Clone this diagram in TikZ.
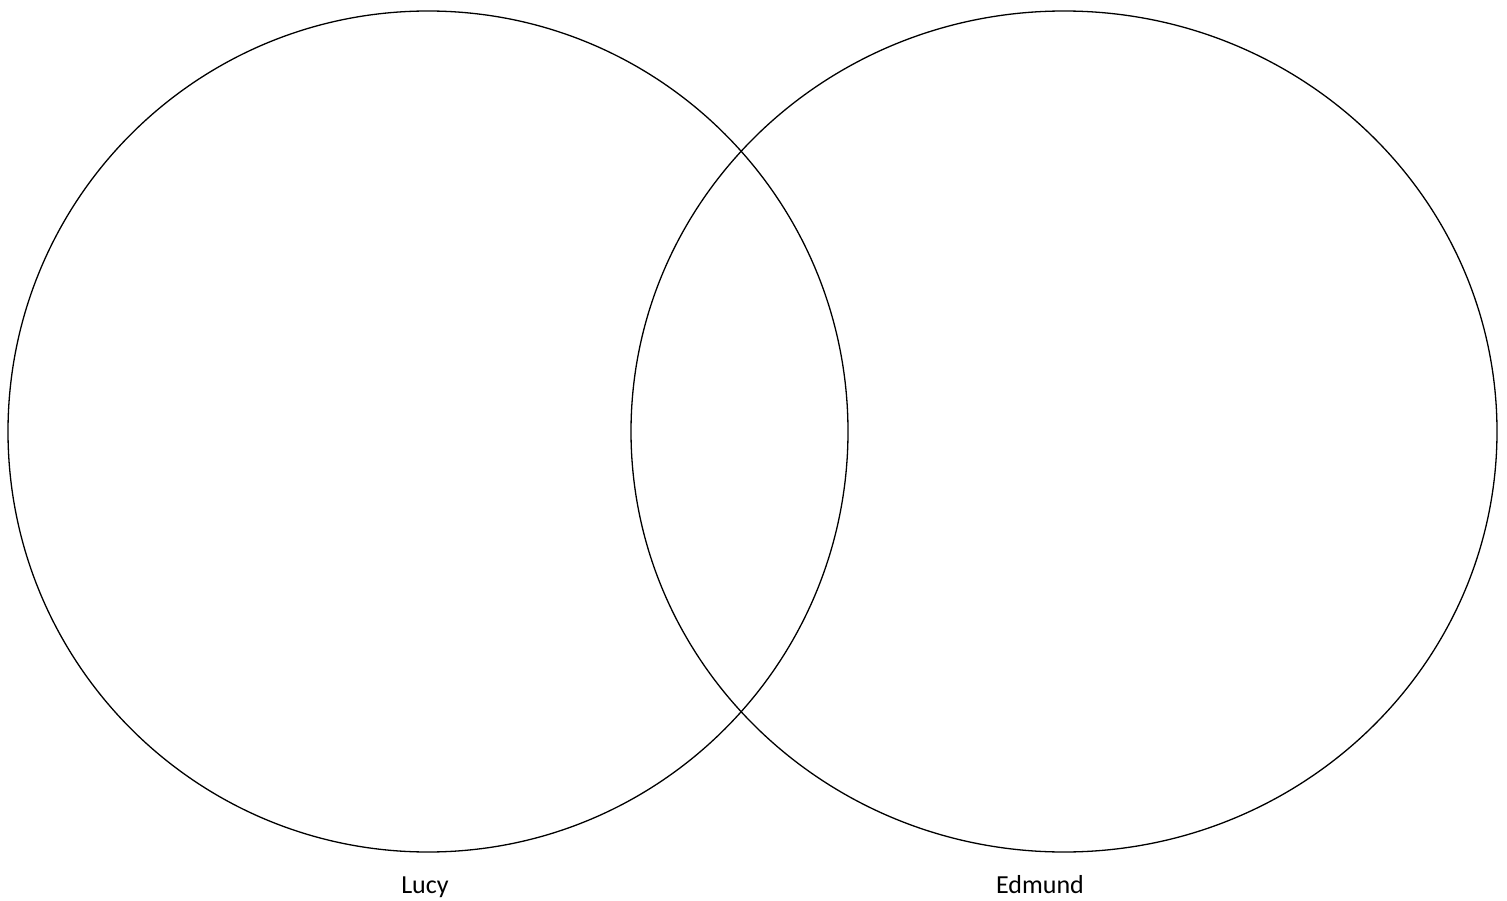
\documentclass[tikz,border=0pt]{standalone}
\usepackage{fontspec}
\setmainfont{Carlito}
\usetikzlibrary{positioning}

\tikzset{
  setring/.style={draw=black, line width=1.3pt},
  setlabel/.style={font=\fontsize{26}{30}\selectfont, anchor=base}
}

\begin{document}
\begin{tikzpicture}[x=1pt, y=-1pt]
  % Page frame
  \useasboundingbox (0,0) rectangle (1507,901);

  % Set centres
  \coordinate (L) at (428,431.5);
  \coordinate (E) at (1064,431.5);

  % Draw the two sets
  \draw[setring] (L) ellipse [x radius=420, y radius=420.5];
  \draw[setring] (E) ellipse [x radius=433, y radius=420.5];

  % Labels
  \node[setlabel] (lucy) at (425,893) {Lucy};
  \node[setlabel] (edmund) at (1040,893) {Edmund};
\end{tikzpicture}
\end{document}
